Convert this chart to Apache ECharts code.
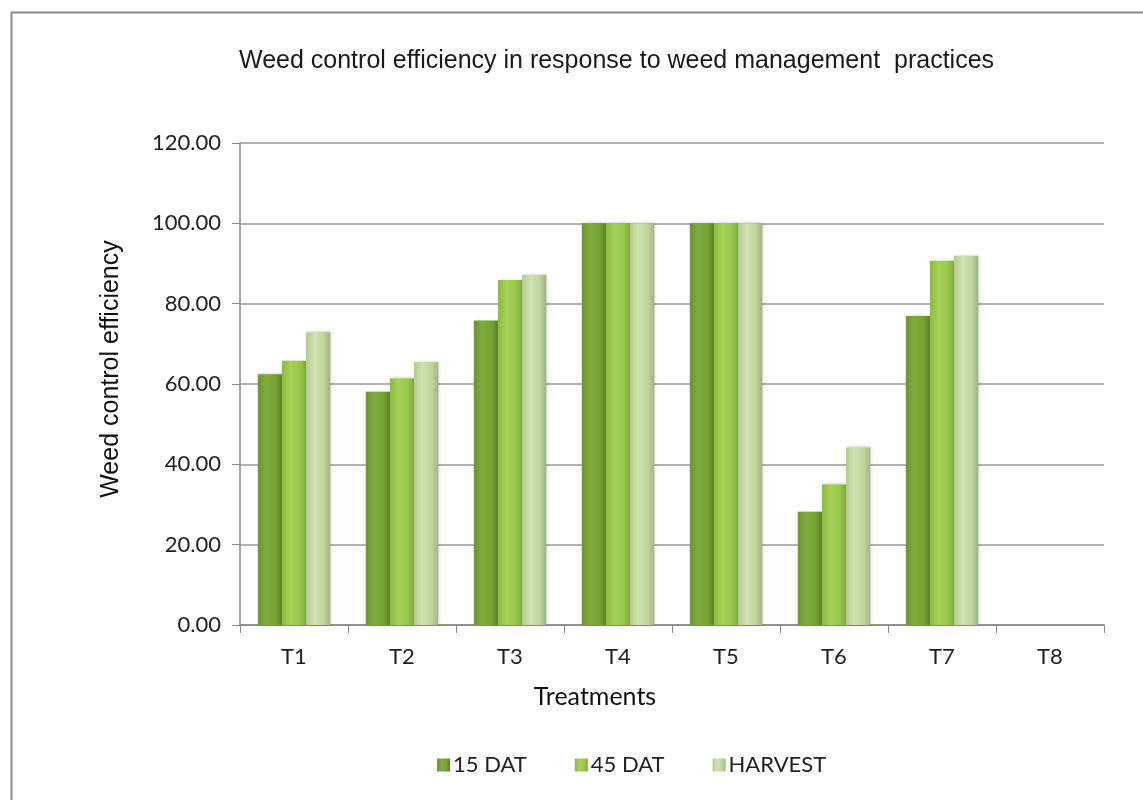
<!DOCTYPE html>
<html>
<head>
<meta charset="utf-8">
<script src="https://cdn.jsdelivr.net/npm/echarts@6/dist/echarts.min.js"></script>
<style>
html,body{margin:0;padding:0;background:#fff;}
#c{width:1143px;height:800px;}
</style>
</head>
<body>
<div id="c"></div>
<script>
const categories = ['T1','T2','T3','T4','T5','T6','T7','T8'];
const dat15 = [62.4, 58.1, 75.8, 100.0, 100.0, 28.2, 76.9, 0];
const dat45 = [65.8, 61.4, 85.9, 100.0, 100.0, 35.0, 90.7, 0];
const harvest = [72.9, 65.5, 87.2, 100.0, 100.0, 44.2, 91.9, 0];
const yTicks = [0, 20, 40, 60, 80, 100, 120];

function grad(c1, c2, c3, c4) {
  return new echarts.graphic.LinearGradient(0, 0, 1, 0, [
    {offset: 0, color: c1},
    {offset: 0.35, color: c2},
    {offset: 0.75, color: c3},
    {offset: 1, color: c4}
  ]);
}
const col15 = grad('#6c9530', '#80ab3c', '#73a034', '#5a8226');
const col45 = grad('#8dbb3f', '#a6d256', '#98c64a', '#7fab38');
const colH = grad('#b4cb8e', '#cfe2b2', '#bfd49c', '#9fb47e');

const chart = echarts.init(document.getElementById('c'), null, {renderer: 'canvas'});
const labelFont = 'Lato, "Open Sans", sans-serif';
const arial = '"Liberation Sans", Arial, sans-serif';
function mk(name, data, color) {
  return {
    name: name, type: 'bar', data: data,
    barGap: '0%', barCategoryGap: '33%',
    itemStyle: {color: color, shadowColor: 'rgba(0,0,0,0.25)', shadowBlur: 3, shadowOffsetX: 1},
    emphasis: {disabled: true}
  };
}
chart.setOption({
  animation: false,
  backgroundColor: '#fff',
  graphic: [{
    type: 'rect', left: 9, top: 10,
    shape: {width: 1200, height: 820},
    style: {fill: 'none', stroke: '#8a8a8a', lineWidth: 2},
    silent: true
  }],
  title: {
    text: 'Weed control efficiency in response to weed management  practices',
    left: 234, top: 44,
    textStyle: {fontFamily: arial, fontSize: 25, fontWeight: 'normal', color: '#1a1a1a'}
  },
  legend: {
    bottom: 19, left: 432, itemGap: 48, itemWidth: 13, itemHeight: 13,
    icon: 'rect',
    textStyle: {fontFamily: labelFont, fontSize: 22, color: '#222', padding: [0,0,0,-2]},
    data: ['15 DAT', '45 DAT', 'HARVEST']
  },
  grid: {left: 240, right: 39, top: 143, bottom: 175},
  xAxis: {
    type: 'category', data: categories,
    name: 'Treatments', nameLocation: 'middle', nameGap: 59,
    nameTextStyle: {fontFamily: labelFont, fontSize: 25, color: '#111', padding: [0, 154, 0, 0]},
    axisLine: {show: true, lineStyle: {color: '#888', width: 1.5}},
    axisTick: {show: true, alignWithLabel: false, length: 8, lineStyle: {color: '#888'}},
    axisLabel: {fontFamily: labelFont, fontSize: 22, color: '#222', margin: 21}
  },
  yAxis: {
    type: 'value', min: 0, max: 120, interval: 20,
    name: 'Weed control efficiency', nameLocation: 'middle', nameGap: 116,
    nameTextStyle: {fontFamily: arial, fontSize: 25, color: '#111', padding: [0, 0, 0, 30]},
    axisLine: {show: true, lineStyle: {color: '#888', width: 1.5}},
    axisTick: {show: true, length: 8, lineStyle: {color: '#888'}},
    axisLabel: {fontFamily: labelFont, fontSize: 22, color: '#222', margin: 19,
      formatter: v => yTicks.indexOf(v) >= 0 ? v.toFixed(2) : ''},
    splitLine: {show: true, lineStyle: {color: '#9a9a9a', width: 1.5}}
  },
  series: [mk('15 DAT', dat15, col15), mk('45 DAT', dat45, col45), mk('HARVEST', harvest, colH)]
});
</script>
</body>
</html>
